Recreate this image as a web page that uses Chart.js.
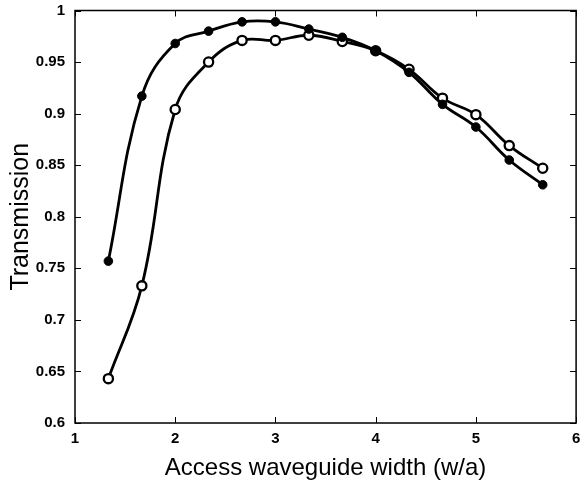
<!DOCTYPE html>
<html>
<head>
<meta charset="utf-8">
<script src="https://cdn.jsdelivr.net/npm/chart.js@4/dist/chart.umd.min.js"></script>
<style>
html, body { margin: 0; padding: 0; background: #fff; }
#wrap { width: 583px; height: 483px; }
</style>
</head>
<body>
<div id="wrap"><canvas id="lineChart" width="583" height="483"></canvas></div>
<script>
// access waveguide width (w/a)
var widths = [1.333, 1.667, 2, 2.333, 2.667, 3, 3.333, 3.667, 4, 4.333, 4.667, 5, 5.333, 5.667];
// filled dots
var transFilled = [0.757, 0.917, 0.968, 0.980, 0.989, 0.989, 0.982, 0.974, 0.961, 0.940, 0.909, 0.887, 0.855, 0.831];
// open circles
var transOpen = [0.643, 0.733, 0.904, 0.950, 0.971, 0.971, 0.976, 0.970, 0.961, 0.943, 0.915, 0.899, 0.869, 0.847];

var xTicks = [1, 2, 3, 4, 5, 6];
var yTicks = [0.6, 0.65, 0.7, 0.75, 0.8, 0.85, 0.9, 0.95, 1];

function pts(ys) {
  return widths.map(function (x, i) { return { x: x, y: ys[i] }; });
}

// MATLAB style box with inward ticks
var boxTicks = {
  id: 'boxTicks',
  afterDraw: function (chart) {
    var c = chart.ctx, a = chart.chartArea;
    var sx = chart.scales.x, sy = chart.scales.y;
    c.save();
    c.strokeStyle = '#000';
    c.lineWidth = 1.5;
    c.strokeRect(a.left, a.top, a.right - a.left, a.bottom - a.top);
    c.lineWidth = 1;
    c.beginPath();
    xTicks.forEach(function (v) {
      var px = Math.round(sx.getPixelForValue(v)) + 0.5;
      c.moveTo(px, a.bottom); c.lineTo(px, a.bottom - 6);
      c.moveTo(px, a.top); c.lineTo(px, a.top + 6);
    });
    yTicks.forEach(function (v) {
      var py = Math.round(sy.getPixelForValue(v)) + 0.5;
      c.moveTo(a.left, py); c.lineTo(a.left + 6, py);
      c.moveTo(a.right, py); c.lineTo(a.right - 6, py);
    });
    c.stroke();
    c.restore();
  }
};

var tickFont = { family: 'Liberation Sans', size: 15, weight: 'bold', lineHeight: 1 };
var hiddenGrid = { display: true, drawOnChartArea: false, drawTicks: true, tickLength: 7, color: 'rgba(0,0,0,0)' };

var ctxL = document.getElementById('lineChart').getContext('2d');
var myLineChart = new Chart(ctxL, {
  type: 'line',
  data: {
    datasets: [{
      label: 'filled',
      data: pts(transFilled),
      borderColor: '#000',
      backgroundColor: '#000',
      borderWidth: 2.8,
      pointRadius: 4.3,
      pointBorderWidth: 1,
      tension: 0.4
    }, {
      label: 'open',
      data: pts(transOpen),
      borderColor: '#000',
      backgroundColor: '#fff',
      borderWidth: 2.8,
      pointRadius: 4.6,
      pointBorderWidth: 2.3,
      tension: 0.4
    }]
  },
  options: {
    responsive: false,
    animation: false,
    layout: { padding: { left: 6, right: 0, top: 0, bottom: 0 } },
    plugins: { legend: { display: false }, tooltip: { enabled: false } },
    scales: {
      x: {
        type: 'linear',
        min: 1, max: 6,
        afterBuildTicks: function (s) { s.ticks = xTicks.map(function (v) { return { value: v }; }); },
        afterFit: function (s) { s.height = 60; },
        grid: hiddenGrid,
        border: { display: false },
        ticks: { color: '#000', padding: 1, font: tickFont },
        title: { display: true, text: 'Access waveguide width (w/a)', color: '#000', padding: { top: 6, bottom: 0 },
          font: { family: 'Liberation Sans', size: 24 } }
      },
      y: {
        min: 0.6, max: 1,
        afterBuildTicks: function (s) { s.ticks = yTicks.map(function (v) { return { value: v }; }); },
        afterFit: function (s) { s.width = 69; },
        grid: hiddenGrid,
        border: { display: false },
        ticks: { color: '#000', padding: 3, font: tickFont,
          callback: function (v) { return String(v); } },
        title: { display: true, text: 'Transmission', color: '#000', padding: { top: 0, bottom: 4 },
          font: { family: 'Liberation Sans', size: 25 } }
      }
    }
  },
  plugins: [boxTicks]
});
</script>
</body>
</html>
